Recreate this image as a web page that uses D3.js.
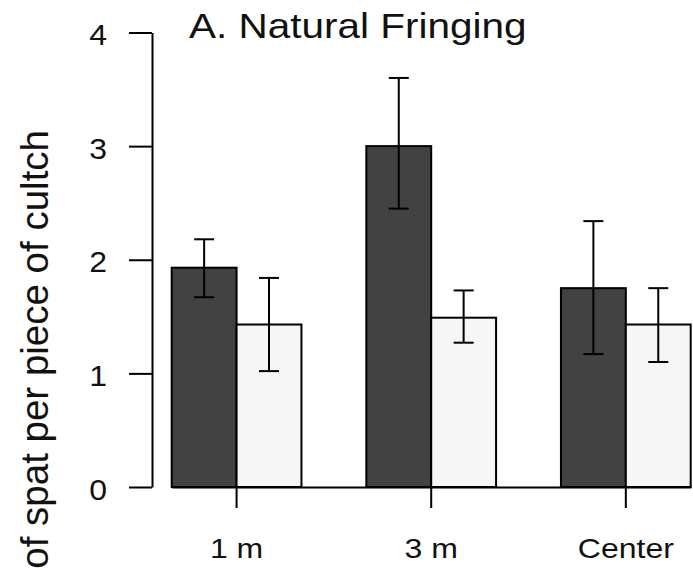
<!DOCTYPE html>
<html>
<head>
<meta charset="utf-8">
<script src="https://cdn.jsdelivr.net/npm/d3@7"></script>
<style>
  html, body { margin: 0; padding: 0; background: #fff; overflow: hidden; }
  svg { display: block; font-family: "Liberation Sans", Arial, Helvetica, sans-serif; }
</style>
</head>
<body>
<svg id="chart" width="693" height="570"></svg>
<script>
// Spat settlement per piece of cultch, by distance from the reef edge
const categories = ["1 m", "3 m", "Center"];
const darkMeans  = [1.93, 3.00, 1.75];
const darkLow    = [1.67, 2.45, 1.17];
const darkHigh   = [2.18, 3.60, 2.34];
const lightMeans = [1.43, 1.49, 1.43];
const lightLow   = [1.02, 1.27, 1.10];
const lightHigh  = [1.84, 1.73, 1.75];
const yTicks     = [0, 1, 2, 3, 4];
const titleText  = "A. Natural Fringing";
const yLabelText = "Number of spat per piece of cultch";

const svg = d3.select("#chart");
const textSquash = 0.87;

const y = d3.scaleLinear().domain([0, 4]).range([487, 32.5]);

// Groups of two bars, one bar-width of space between groups
const xGroup = d3.scaleBand()
  .domain(categories)
  .range([171.7, 690.7])
  .paddingInner(1 / 3)
  .paddingOuter(0);

const xSeries = d3.scaleBand()
  .domain(["dark", "light"])
  .range([0, xGroup.bandwidth()])
  .padding(0);

const rows = categories.map((c, i) => ({
  cat: c,
  bars: [
    { key: "dark",  mean: darkMeans[i],  lo: darkLow[i],  hi: darkHigh[i],  fill: "#424242" },
    { key: "light", mean: lightMeans[i], lo: lightLow[i], hi: lightHigh[i], fill: "#f6f6f6" }
  ]
}));

const groups = svg.append("g").selectAll("g")
  .data(rows)
  .join("g")
  .attr("transform", d => `translate(${xGroup(d.cat)},0)`);

groups.selectAll("rect")
  .data(d => d.bars)
  .join("rect")
  .attr("x", d => xSeries(d.key))
  .attr("y", d => y(d.mean))
  .attr("width", xSeries.bandwidth())
  .attr("height", d => y(0) - y(d.mean))
  .attr("fill", d => d.fill)
  .attr("stroke", "#000")
  .attr("stroke-width", 2);

// Error bars
const capHalf = 10;
const err = groups.selectAll("g.err")
  .data(d => d.bars)
  .join("g")
  .attr("class", "err")
  .attr("transform", d => `translate(${xSeries(d.key) + xSeries.bandwidth() / 2},0)`)
  .attr("stroke", "#000")
  .attr("stroke-width", 2);
err.append("line").attr("x1", 0).attr("x2", 0).attr("y1", d => y(d.lo)).attr("y2", d => y(d.hi));
err.append("line").attr("x1", -capHalf).attr("x2", capHalf).attr("y1", d => y(d.hi)).attr("y2", d => y(d.hi));
err.append("line").attr("x1", -capHalf).attr("x2", capHalf).attr("y1", d => y(d.lo)).attr("y2", d => y(d.lo));

// Y axis
const yAxis = svg.append("g")
  .attr("transform", "translate(152,0)")
  .call(d3.axisLeft(y).tickValues(yTicks).tickFormat(d3.format("d")).tickSize(23).tickSizeOuter(0).tickPadding(22));
yAxis.selectAll("path, line").attr("stroke", "#000").attr("stroke-width", 2);
yAxis.selectAll("text")
  .attr("font-size", 32)
  .attr("font-family", "Liberation Sans, Arial, sans-serif")
  .attr("fill", "#111")
  .attr("dy", "0.4em")
  .attr("transform", "scale(1,0.94)");

// X axis
const xAxis = svg.append("g")
  .attr("transform", `translate(0,${y(0)})`)
  .call(d3.axisBottom(xGroup).tickSize(21).tickSizeOuter(0));
xAxis.selectAll("path, line").attr("stroke", "#000").attr("stroke-width", 2);
xAxis.selectAll("text")
  .attr("font-size", 32)
  .attr("font-family", "Liberation Sans, Arial, sans-serif")
  .attr("fill", "#111")
  .attr("y", 0)
  .attr("dy", 0)
  .attr("transform", `translate(0,71) scale(1,${textSquash})`);

// Title
svg.append("text")
  .attr("transform", `translate(189,38) scale(1,${textSquash})`)
  .attr("font-size", 40.5)
  .attr("fill", "#111")
  .text(titleText);

// Y axis label
svg.append("text")
  .attr("transform", "translate(48,130) rotate(-90)")
  .attr("text-anchor", "end")
  .attr("font-size", 38.5)
  .attr("fill", "#111")
  .text(yLabelText);
</script>
</body>
</html>
